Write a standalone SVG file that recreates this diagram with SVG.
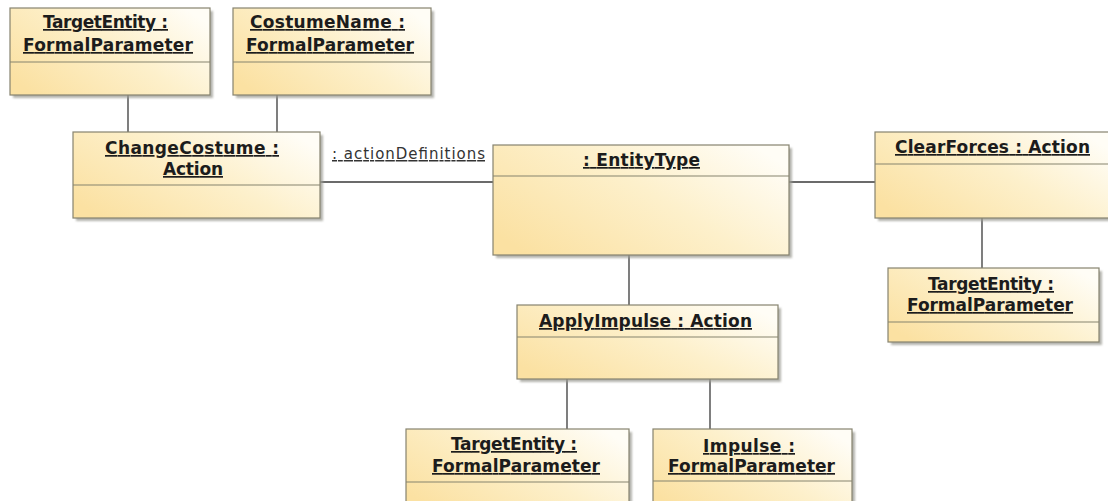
<svg xmlns="http://www.w3.org/2000/svg" width="1108" height="501" viewBox="0 0 1108 501">
  <defs>
    <linearGradient id="fill" x1="0" y1="0.8" x2="1" y2="0.2">
      <stop offset="0" stop-color="#fbe1a2"/>
      <stop offset="0.55" stop-color="#fdf0cb"/>
      <stop offset="1" stop-color="#fffdf6"/>
    </linearGradient>
    <filter id="soft" x="-5%" y="-5%" width="115%" height="125%">
      <feGaussianBlur stdDeviation="0.8"/>
    </filter>
  </defs>
  <style>
    .shadow { fill: #9c9c94; opacity: 0.75; filter: url(#soft); }
    .box { fill: url(#fill); stroke: #86836f; stroke-width: 1.2; }
    .div { stroke: #86836f; stroke-width: 1.2; }
    .name { font-family: "DejaVu Sans", Verdana, sans-serif; font-weight: bold; font-size: 17px; fill: #1c1c1c; text-decoration: underline; text-anchor: start; }
    .role { font-family: "DejaVu Sans", Verdana, sans-serif; font-size: 15px; fill: #333; text-decoration: underline; }
    .link { stroke: #3a3a3a; stroke-width: 1.3; fill: none; }
  </style>
  <rect width="1108" height="501" fill="#ffffff"/>

  <!-- links between instances -->
  <g id="connectors">
    <line class="link" x1="128" y1="95" x2="128" y2="132"/>
    <line class="link" x1="277" y1="95" x2="277" y2="132"/>
    <line class="link" x1="320" y1="182" x2="493" y2="182"/>
    <line class="link" x1="789" y1="182" x2="875" y2="182"/>
    <line class="link" x1="982" y1="218" x2="982" y2="268"/>
    <line class="link" x1="629" y1="255" x2="629" y2="305"/>
    <line class="link" x1="567" y1="379" x2="567" y2="429"/>
    <line class="link" x1="710" y1="379" x2="710" y2="429"/>
    <text class="role" x="332" y="159" textLength="153" lengthAdjust="spacing">: actionDefinitions</text>
  </g>

  <g id="targetEntity1">
    <rect class="shadow" x="13" y="11" width="200" height="87"/>
    <rect class="box" x="10" y="8" width="200" height="87"/>
    <line class="div" x1="10" y1="62" x2="210" y2="62"/>
    <text class="name" x="43" y="28" textLength="125" lengthAdjust="spacing">TargetEntity :</text>
    <text class="name" x="23" y="51" textLength="170" lengthAdjust="spacing">FormalParameter</text>
  </g>

  <g id="costumeName">
    <rect class="shadow" x="236" y="11" width="198" height="87"/>
    <rect class="box" x="233" y="8" width="198" height="87"/>
    <line class="div" x1="233" y1="62" x2="431" y2="62"/>
    <text class="name" x="250" y="28" textLength="155" lengthAdjust="spacing">CostumeName :</text>
    <text class="name" x="246" y="51" textLength="168" lengthAdjust="spacing">FormalParameter</text>
  </g>

  <g id="changeCostume">
    <rect class="shadow" x="76" y="135" width="247" height="86"/>
    <rect class="box" x="73" y="132" width="247" height="86"/>
    <line class="div" x1="73" y1="185" x2="320" y2="185"/>
    <text class="name" x="105" y="154" textLength="174" lengthAdjust="spacing">ChangeCostume :</text>
    <text class="name" x="163" y="175" textLength="60" lengthAdjust="spacing">Action</text>
  </g>

  <g id="entityType">
    <rect class="shadow" x="496" y="148" width="296" height="110"/>
    <rect class="box" x="493" y="145" width="296" height="110"/>
    <line class="div" x1="493" y1="176" x2="789" y2="176"/>
    <text class="name" x="583" y="166" textLength="117" lengthAdjust="spacing">: EntityType</text>
  </g>

  <g id="clearForces">
    <rect class="shadow" x="878" y="135" width="235" height="86"/>
    <rect class="box" x="875" y="132" width="235" height="86"/>
    <line class="div" x1="875" y1="164" x2="1110" y2="164"/>
    <text class="name" x="895" y="153" textLength="195" lengthAdjust="spacing">ClearForces : Action</text>
  </g>

  <g id="targetEntity2">
    <rect class="shadow" x="891" y="271" width="211" height="74"/>
    <rect class="box" x="888" y="268" width="211" height="74"/>
    <line class="div" x1="888" y1="322" x2="1099" y2="322"/>
    <text class="name" x="928" y="290" textLength="126" lengthAdjust="spacing">TargetEntity :</text>
    <text class="name" x="907" y="311" textLength="166" lengthAdjust="spacing">FormalParameter</text>
  </g>

  <g id="applyImpulse">
    <rect class="shadow" x="520" y="308" width="261" height="74"/>
    <rect class="box" x="517" y="305" width="261" height="74"/>
    <line class="div" x1="517" y1="337" x2="778" y2="337"/>
    <text class="name" x="539" y="327" textLength="213" lengthAdjust="spacing">ApplyImpulse : Action</text>
  </g>

  <g id="targetEntity3">
    <rect class="shadow" x="409" y="432" width="223" height="80"/>
    <rect class="box" x="406" y="429" width="223" height="80"/>
    <line class="div" x1="406" y1="482" x2="629" y2="482"/>
    <text class="name" x="451" y="450" textLength="126" lengthAdjust="spacing">TargetEntity :</text>
    <text class="name" x="432" y="472" textLength="168" lengthAdjust="spacing">FormalParameter</text>
  </g>

  <g id="impulse">
    <rect class="shadow" x="656" y="432" width="199" height="80"/>
    <rect class="box" x="653" y="429" width="199" height="80"/>
    <line class="div" x1="653" y1="481" x2="852" y2="481"/>
    <text class="name" x="703" y="452" textLength="92" lengthAdjust="spacing">Impulse :</text>
    <text class="name" x="668" y="472" textLength="167" lengthAdjust="spacing">FormalParameter</text>
  </g>
</svg>
